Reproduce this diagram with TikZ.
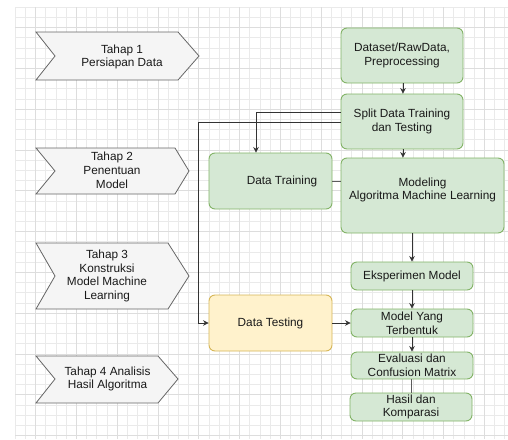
\documentclass[tikz,border=0pt]{standalone}
\usepackage{fontspec}
\setmainfont{Liberation Sans}
\usetikzlibrary{arrows.meta}
\definecolor{gfill}{HTML}{D5E8D4}
\definecolor{gline}{HTML}{82B366}
\definecolor{yfill}{HTML}{FFF2CC}
\definecolor{yline}{HTML}{D6B656}
\definecolor{sfill}{HTML}{F5F5F5}
\definecolor{sline}{HTML}{666666}
\definecolor{gridminor}{HTML}{EAEAEA}
\definecolor{gridmajor}{HTML}{DDDDDD}
\definecolor{edgec}{HTML}{333333}
\begin{document}
\begin{tikzpicture}[x=1pt,y=-1pt,
  txt/.style={font=\fontsize{11.8}{13.8}\selectfont, align=center, inner sep=0pt, text=black!90},
  gbox/.style={draw=gline, fill=gfill, line width=0.9pt, rounded corners=6pt, inner sep=0pt, txt},
  ybox/.style={draw=yline, fill=yfill, line width=0.9pt, rounded corners=6pt, inner sep=0pt, txt},
  stage/.style={draw=sline, fill=sfill, line width=0.8pt, line join=miter},
  arr/.style={draw=edgec, line width=0.8pt, -{Stealth[length=5.5pt,width=5.5pt]}},
  plain/.style={draw=edgec!80, line width=0.8pt}
]
\useasboundingbox (0,0) rectangle (508,439);
\fill[white] (0,0) rectangle (508,439);
% grid
\foreach \i in {0,...,48} { \draw[gridminor, line width=0.5pt] ({15+10.2*\i},7) -- ({15+10.2*\i},439); }
\foreach \j in {0,...,42} { \draw[gridminor, line width=0.5pt] (15,{7+10.2*\j}) -- (508,{7+10.2*\j}); }
\foreach \i in {0,...,11} { \draw[gridmajor, line width=0.6pt] ({35.4+40.8*\i},7) -- ({35.4+40.8*\i},439); }
\foreach \j in {0,...,10} { \draw[gridmajor, line width=0.6pt] (15,{27.4+40.8*\j}) -- (508,{27.4+40.8*\j}); }

% stages
\draw[stage] (36,32) -- (178,32) -- (199,56) -- (178,80) -- (36,80) -- (55,56) -- cycle;
\node[txt] (t1) at (122,57) {Tahap 1\\Persiapan Data};
\draw[stage] (36,148) -- (175,148) -- (189,171) -- (175,194) -- (36,194) -- (55,171) -- cycle;
\node[txt] (t2) at (112,170) {Tahap 2\\Penentuan\\Model};
\draw[stage] (36,243) -- (168,243) -- (189,276) -- (168,309) -- (36,309) -- (55,276) -- cycle;
\node[txt] (t3) at (107,276) {Tahap 3\\Konstruksi\\Model Machine\\Learning};
\draw[stage] (36,356) -- (158,356) -- (178,379) -- (158,403) -- (36,403) -- (55,379) -- cycle;
\node[txt] (t4) at (107.5,379) {Tahap 4 Analisis\\Hasil Algoritma};

% boxes
\node[gbox, minimum width=122pt, minimum height=55pt] (ds) at (402,55.5) {Dataset/RawData,\\Preprocessing};
\node[gbox, minimum width=122pt, minimum height=55pt] (split) at (402,121.5) {Split Data Training\\dan Testing};
\node[gbox, minimum width=163pt, minimum height=75pt] (model) at (422.5,195.5) {};
\node[txt] (modelt) at (422.5,190) {Modeling\\Algoritma Machine Learning};
\node[gbox, minimum width=123pt, minimum height=56pt] (dtrain) at (270.5,181) {};
\node[txt] (dtraint) at (282,181) {Data Training};
\node[ybox, minimum width=123pt, minimum height=56pt] (dtest) at (270.5,323) {Data Testing};
\node[gbox, minimum width=122pt, minimum height=28pt] (eks) at (412,276) {Eksperimen Model};
\node[gbox, minimum width=122pt, minimum height=28pt] (my) at (412,323) {Model Yang\\Terbentuk};
\node[gbox, minimum width=122pt, minimum height=27pt] (ev) at (412,365.5) {Evaluasi dan\\Confusion Matrix};
\node[gbox, minimum width=122pt, minimum height=28pt] (hasil) at (411,407) {Hasil dan\\Komparasi};

% connectors
\coordinate (ka) at (256,112);
\coordinate (kb) at (198,122);
\coordinate (kc) at (403,0);
\draw[arr] (ds.south -| kc) -- (split.north -| kc);
\draw[arr] (split.south -| kc) -- (model.north -| kc);
\draw[arr] (split.west |- ka) -| (dtrain.north -| ka);
\draw[arr] (split.west |- kb) -- (kb) |- (dtest.west);
\draw[plain] (dtrain.east) -- (model.west |- dtrain.east);
\draw[arr] (eks.north |- model.south) -- (eks.north);
\draw[arr] (eks.south) -- (my.north);
\draw[arr] (dtest.east) -- (my.west);
\draw[arr] (my.south) -- (ev.north);
\draw[plain] (ev.south -| hasil.north) -- (hasil.north);
\end{tikzpicture}
\end{document}
